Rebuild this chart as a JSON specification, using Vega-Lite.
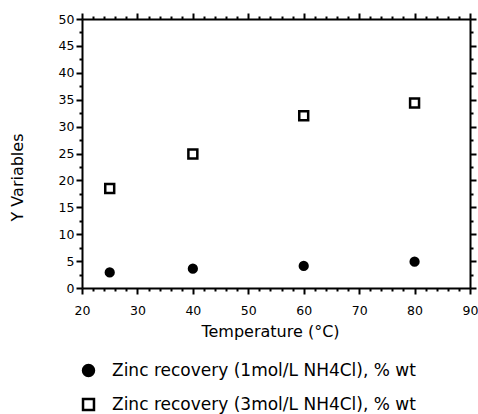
{
  "$schema": "https://vega.github.io/schema/vega-lite/v6.json",
  "autosize": "none",
  "width": 388,
  "height": 269,
  "padding": {"left": 82, "top": 19, "right": 8, "bottom": 126},
  "background": "white",
  "config": {
    "view": {"stroke": null},
    "font": "DejaVu Sans",
    "axis": {
      "domainColor": "black",
      "domainWidth": 2,
      "tickColor": "black",
      "tickWidth": 2,
      "grid": false,
      "labelColor": "black",
      "labelFont": "DejaVu Sans",
      "labelFontSize": 12.5,
      "titleColor": "black",
      "titleFont": "DejaVu Sans",
      "titleFontSize": 16,
      "titleFontWeight": "normal"
    },
    "legend": {
      "labelFont": "DejaVu Sans",
      "labelFontSize": 17,
      "labelColor": "black",
      "labelLimit": 0
    }
  },
  "data": {
    "values": [
      {"temperature": 25, "recovery": 2.9, "series": "Zinc recovery (1mol/L NH4Cl), % wt"},
      {"temperature": 40, "recovery": 3.6, "series": "Zinc recovery (1mol/L NH4Cl), % wt"},
      {"temperature": 60, "recovery": 4.1, "series": "Zinc recovery (1mol/L NH4Cl), % wt"},
      {"temperature": 80, "recovery": 4.9, "series": "Zinc recovery (1mol/L NH4Cl), % wt"},
      {"temperature": 25, "recovery": 18.5, "series": "Zinc recovery (3mol/L NH4Cl), % wt"},
      {"temperature": 40, "recovery": 24.9, "series": "Zinc recovery (3mol/L NH4Cl), % wt"},
      {"temperature": 60, "recovery": 32.0, "series": "Zinc recovery (3mol/L NH4Cl), % wt"},
      {"temperature": 80, "recovery": 34.4, "series": "Zinc recovery (3mol/L NH4Cl), % wt"}
    ]
  },
  "layer": [
    {
      "transform": [{"filter": "datum.series === 'Zinc recovery (1mol/L NH4Cl), % wt'"}],
      "mark": {"type": "point", "filled": true, "stroke": "black", "strokeWidth": 2.5, "size": 60, "opacity": 1},
      "encoding": {
        "x": {
          "field": "temperature", "type": "quantitative",
          "scale": {"domain": [20, 90], "nice": false, "zero": false},
          "axis": {
            "orient": "bottom",
            "title": "Temperature (\u00b0C)",
            "values": [20,22,24,26,28,30,32,34,36,38,40,42,44,46,48,50,52,54,56,58,60,62,64,66,68,70,72,74,76,78,80,82,84,86,88,90],
            "labelExpr": "datum.value % 10 === 0 ? datum.label : ''",
            "tickSize": {"condition": {"test": "datum.value % 10 === 0", "value": 6}, "value": 3},
            "labelPadding": 10,
            "labelFlush": false,
            "labelOverlap": false,
            "titleX": 188,
            "titleY": 35,
            "titleBaseline": "top",
            "titleAlign": "center"
          }
        },
        "y": {
          "field": "recovery", "type": "quantitative",
          "scale": {"domain": [0, 50], "nice": false, "zero": true},
          "axis": {
            "orient": "left",
            "title": "Y Variables",
            "values": [0,2.5,5,7.5,10,12.5,15,17.5,20,22.5,25,27.5,30,32.5,35,37.5,40,42.5,45,47.5,50],
            "labelExpr": "datum.value % 5 === 0 ? datum.label : ''",
            "tickSize": {"condition": {"test": "datum.value % 5 === 0", "value": 6}, "value": 3},
            "labelPadding": 2,
            "labelFlush": false,
            "labelOverlap": false,
            "titleAngle": -90,
            "titleX": -65,
            "titleY": 158,
            "titleAlign": "center",
            "titleBaseline": "middle"
          }
        },
        "shape": {
          "field": "series", "type": "nominal",
          "scale": {"domain": ["Zinc recovery (1mol/L NH4Cl), % wt", "Zinc recovery (3mol/L NH4Cl), % wt"], "range": ["circle", "square"]},
          "legend": {
            "title": null,
            "orient": "none",
            "legendX": -2,
            "legendY": 343,
            "direction": "vertical",
            "symbolSize": 120,
            "symbolStrokeWidth": 2.5,
            "labelOffset": 15,
            "rowPadding": 13,
            "encode": {
              "symbols": {
                "update": {
                  "stroke": {"value": "black"},
                  "strokeWidth": {"value": 2.5}
                }
              }
            }
          }
        },
        "fill": {
          "field": "series", "type": "nominal",
          "scale": {"domain": ["Zinc recovery (1mol/L NH4Cl), % wt", "Zinc recovery (3mol/L NH4Cl), % wt"], "range": ["black", "white"]},
          "legend": {
            "title": null,
            "orient": "none",
            "legendX": -2,
            "legendY": 343,
            "direction": "vertical",
            "symbolSize": 120,
            "symbolStrokeWidth": 2.5,
            "labelOffset": 15,
            "rowPadding": 13,
            "encode": {
              "symbols": {
                "update": {
                  "stroke": {"value": "black"},
                  "strokeWidth": {"value": 2.5}
                }
              }
            }
          }
        }
      }
    },
    {
      "transform": [{"filter": "datum.series === 'Zinc recovery (3mol/L NH4Cl), % wt'"}],
      "mark": {"type": "point", "filled": true, "stroke": "black", "strokeWidth": 2.5, "size": 80, "opacity": 1},
      "encoding": {
        "x": {
          "field": "temperature", "type": "quantitative",
          "scale": {"domain": [20, 90], "nice": false, "zero": false},
          "axis": {
            "orient": "top",
            "title": null,
            "labels": false,
            "values": [20,22,24,26,28,30,32,34,36,38,40,42,44,46,48,50,52,54,56,58,60,62,64,66,68,70,72,74,76,78,80,82,84,86,88,90],
            "tickSize": {"condition": {"test": "datum.value % 10 === 0", "value": 6}, "value": 3}
          }
        },
        "y": {
          "field": "recovery", "type": "quantitative",
          "scale": {"domain": [0, 50], "nice": false, "zero": true},
          "axis": {
            "orient": "right",
            "title": null,
            "labels": false,
            "values": [0,2.5,5,7.5,10,12.5,15,17.5,20,22.5,25,27.5,30,32.5,35,37.5,40,42.5,45,47.5,50],
            "tickSize": {"condition": {"test": "datum.value % 5 === 0", "value": 6}, "value": 3}
          }
        },
        "shape": {
          "field": "series", "type": "nominal",
          "scale": {"domain": ["Zinc recovery (1mol/L NH4Cl), % wt", "Zinc recovery (3mol/L NH4Cl), % wt"], "range": ["circle", "square"]}
        },
        "fill": {
          "field": "series", "type": "nominal",
          "scale": {"domain": ["Zinc recovery (1mol/L NH4Cl), % wt", "Zinc recovery (3mol/L NH4Cl), % wt"], "range": ["black", "white"]}
        }
      }
    }
  ],
  "resolve": {"scale": {"x": "independent", "y": "independent"}}
}
